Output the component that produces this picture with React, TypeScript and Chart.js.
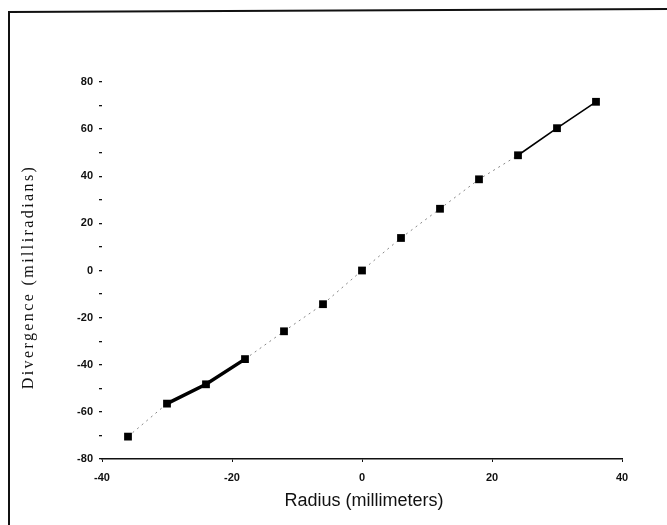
import React, { useEffect, useRef } from "react";
import { Chart, registerables } from "chart.js";

Chart.register(...registerables);

const radius = [-36, -30, -24, -18, -12, -6, 0, 6, 12, 18, 24, 30, 36];
const divergence = [-70.5, -56.5, -48.3, -37.6, -25.8, -14.3, 0, 13.8, 26.2, 38.7, 48.9, 60.4, 71.6];
const xTicks = [-40, -20, 0, 20, 40];
const yTicks = [-80, -60, -40, -20, 0, 20, 40, 60, 80];
const xTitle = "Radius (millimeters)";
const yTitle = "Divergence (milliradians)";

const solidThick = [1, 2];
const solidThin = [10, 11];

export default function App() {
  const ref = useRef<HTMLCanvasElement | null>(null);
  useEffect(() => {
    if (!ref.current) return;
    const framePlugin = {
      id: "frame",
      beforeDraw(chart: any) {
        const ctx = chart.ctx;
        ctx.save();
        ctx.fillStyle = "#fff";
        ctx.fillRect(0, 0, chart.width, chart.height);
        ctx.strokeStyle = "#111";
        ctx.lineWidth = 2;
        ctx.beginPath();
        ctx.moveTo(9, 525);
        ctx.lineTo(9, 12);
        ctx.lineTo(667, 9);
        ctx.stroke();
        ctx.restore();
      },
      afterDraw(chart: any) {
        const ctx = chart.ctx;
        const ca = chart.chartArea;
        ctx.save();
        ctx.fillStyle = "#111";
        ctx.textAlign = "center";
        ctx.textBaseline = "middle";
        ctx.font = "18px 'Liberation Sans', Arial, sans-serif";
        ctx.fillText(xTitle, (ca.left + ca.right) / 2 + 2, 501);
        ctx.translate(29, 277);
        ctx.rotate(-Math.PI / 2);
        ctx.font = "16px 'Liberation Serif', 'Times New Roman', serif";
        try {
          (ctx as any).letterSpacing = "2.4px";
        } catch (e) {}
        ctx.fillText(yTitle, 0, 0);
        ctx.restore();
      },
    };
    const chart = new Chart(ref.current, {
      type: "line",
      data: {
        datasets: [
          {
            data: radius.map((x, i) => ({ x, y: divergence[i] })),
            borderColor: "#888",
            borderWidth: 1,
            borderDash: [2, 4],
            pointStyle: "rect",
            pointRadius: 5.5,
            pointBackgroundColor: "#000",
            pointBorderColor: "#000",
            pointBorderWidth: 0,
            segment: {
              borderColor: (c: any) =>
                solidThick.includes(c.p0DataIndex) || solidThin.includes(c.p0DataIndex) ? "#000" : "#888",
              borderWidth: (c: any) =>
                solidThick.includes(c.p0DataIndex) ? 3.5 : solidThin.includes(c.p0DataIndex) ? 1.6 : 1,
              borderDash: (c: any) =>
                solidThick.includes(c.p0DataIndex) || solidThin.includes(c.p0DataIndex) ? [] : [2, 4],
            },
          },
        ],
      },
      options: {
        animation: false,
        responsive: false,
        layout: { padding: { left: 0, top: 82, right: 45, bottom: 0 } },
        plugins: { legend: { display: false }, tooltip: { enabled: false } },
        scales: {
          x: {
            type: "linear",
            min: -40,
            max: 40,
            afterFit: (s: any) => {
              s.height = 66;
            },
            afterBuildTicks: (s: any) => {
              s.ticks = xTicks.map((v) => ({ value: v }));
            },
            border: { display: true, color: "#111", width: 1.5, dash: [16, 4, 8, 5] },
            grid: { drawOnChartArea: false, drawTicks: true, tickLength: 3, color: "#111", lineWidth: 1 },
            ticks: {
              padding: 9,
              color: "#111",
              font: { family: "'Liberation Sans', Arial, sans-serif", size: 11, weight: "bold" },
              callback: (v: any) => String(v),
            },
          },
          y: {
            type: "linear",
            min: -80,
            max: 80,
            afterFit: (s: any) => {
              s.width = 102;
            },
            afterBuildTicks: (s: any) => {
              const t: any[] = [];
              for (let v = -80; v <= 80; v += 10) t.push({ value: v });
              s.ticks = t;
            },
            border: { display: false },
            grid: { drawOnChartArea: false, drawTicks: true, tickLength: 3, color: "#111", lineWidth: 1.3 },
            ticks: {
              padding: 6,
              color: "#111",
              font: { family: "'Liberation Sans', Arial, sans-serif", size: 11, weight: "bold" },
              callback: (v: any) => (yTicks.includes(Number(v)) ? String(v) : ""),
            },
          },
        },
      },
      plugins: [framePlugin],
    } as any);
    return () => chart.destroy();
  }, []);
  return (
    <div style={{ position: "absolute", left: 0, top: 0, width: 667, height: 525 }}>
      <canvas ref={ref} width={667} height={525} style={{ display: "block" }} />
    </div>
  );
}
